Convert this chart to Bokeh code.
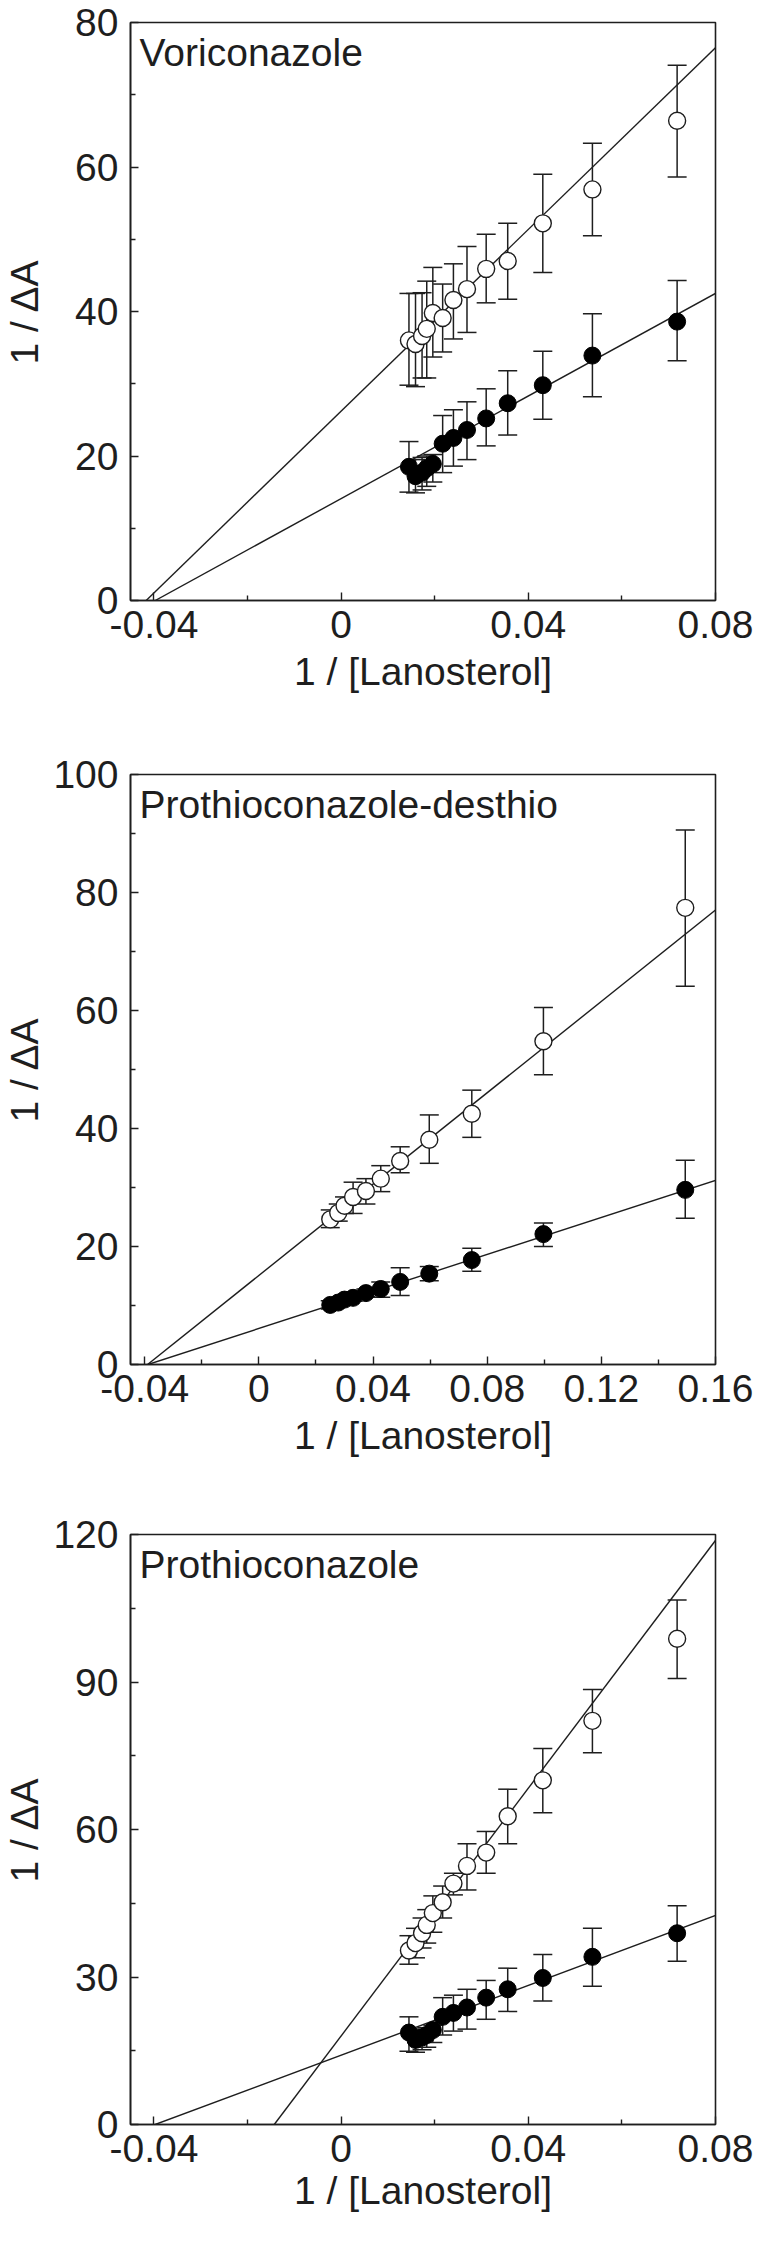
from bokeh.plotting import figure
from bokeh.models import (ColumnDataSource, Whisker, TeeHead, Slope, Label,
                          FixedTicker, Range1d)
from bokeh.layouts import column
from bokeh.embed import file_html
from bokeh.resources import INLINE

# ---------------- data ----------------
# Voriconazole / Prothioconazole share the same 1/[Lanosterol] values
x_lan = [0.0145, 0.0159, 0.0173, 0.0183, 0.0196, 0.0217, 0.0240, 0.0269,
         0.0310, 0.0356, 0.0431, 0.0537, 0.0718]

vori_open_y = [36.0, 35.5, 36.6, 37.6, 39.8, 39.1, 41.6, 43.1, 45.9, 47.0, 52.2, 56.9, 66.4]
vori_open_hi = [42.5, 42.5, 42.6, 44.2, 46.1, 43.8, 46.6, 49.0, 50.7, 52.2, 59.0, 63.3, 74.1]
vori_open_lo = [29.8, 29.6, 30.8, 30.8, 33.7, 34.4, 36.2, 37.1, 41.2, 41.7, 45.4, 50.5, 58.6]
vori_fill_y = [18.5, 17.2, 17.7, 18.3, 18.9, 21.7, 22.5, 23.6, 25.2, 27.3, 29.8, 33.9, 38.6]
vori_fill_hi = [22.0, 19.5, 19.8, 20.0, 20.2, 25.6, 26.4, 27.5, 29.3, 31.8, 34.5, 39.7, 44.3]
vori_fill_lo = [15.0, 14.9, 15.3, 15.8, 16.4, 17.7, 18.6, 19.5, 21.4, 22.9, 25.1, 28.2, 33.2]
vori_fit_open = (629.0, 26.2)   # slope, intercept
vori_fit_fill = (355.0, 14.1)

x_desthio = [0.025, 0.0278, 0.030, 0.0330, 0.0375, 0.0427, 0.0495, 0.0597, 0.0746, 0.0997, 0.1494]
des_open_y = [24.6, 25.7, 26.9, 28.4, 29.4, 31.5, 34.5, 38.1, 42.5, 54.8, 77.4]
des_open_hi = [26.2, 27.2, 28.4, 30.9, 31.5, 33.7, 36.9, 42.3, 46.5, 60.5, 90.6]
des_open_lo = [23.2, 24.3, 25.6, 25.6, 27.2, 29.3, 32.5, 34.1, 38.5, 49.1, 64.1]
des_fill_y = [10.1, 10.5, 11.0, 11.3, 12.1, 12.8, 14.0, 15.4, 17.7, 22.1, 29.6]
des_fill_hi = [10.8, 11.2, 11.6, 12.0, 12.8, 14.0, 16.4, 16.6, 19.7, 24.0, 34.6]
des_fill_lo = [9.4, 9.9, 10.4, 10.7, 11.5, 11.4, 11.7, 14.2, 15.8, 20.0, 24.8]
des_fit_open = (387.0, 15.1)
des_fit_fill = (157.0, 6.1)

pro_open_y = [35.4, 36.9, 38.9, 40.6, 43.0, 45.2, 49.0, 52.6, 55.3, 62.7, 70.0, 82.1, 98.8]
pro_open_hi = [38.4, 39.9, 42.0, 43.7, 46.5, 48.5, 51.1, 57.1, 59.6, 68.2, 76.5, 88.5, 106.7]
pro_open_lo = [32.6, 33.9, 35.9, 36.9, 39.1, 42.0, 46.7, 47.7, 51.1, 57.1, 63.4, 75.6, 90.7]
pro_fill_y = [18.7, 17.2, 17.7, 18.2, 19.2, 21.9, 22.7, 23.8, 25.8, 27.5, 29.8, 34.1, 38.9]
pro_fill_hi = [21.9, 19.2, 19.4, 19.7, 20.2, 25.8, 26.3, 27.5, 29.3, 31.8, 34.6, 39.9, 44.5]
pro_fill_lo = [14.9, 14.7, 15.2, 15.7, 16.7, 18.2, 19.0, 19.4, 21.4, 23.0, 25.1, 28.1, 33.2]
pro_fit_open = (1260.0, 18.0)
pro_fit_fill = (355.0, 14.1)

x_ticks_a = [-0.04, 0.0, 0.04, 0.08]
x_minor_a = [-0.02, 0.02, 0.06]
x_labels_a = ["-0.04", "0", "0.04", "0.08"]
x_ticks_b = [-0.04, 0.0, 0.04, 0.08, 0.12, 0.16]
x_minor_b = [-0.02, 0.02, 0.06, 0.10, 0.14]
x_labels_b = ["-0.04", "0", "0.04", "0.08", "0.12", "0.16"]

x_title = "1 / [Lanosterol]"
y_title = "1 / \u0394A"

FONT = "Liberation Sans"
FS = "39px"
INK = "#1e1e1e"


def make_panel(title, xs, open_y, open_lo, open_hi, fill_y, fill_lo, fill_hi,
               fit_open, fit_fill, xr, yr, xt, xminor, xlabels, yt, yminor,
               height, b_top, b_bottom, xlab_standoff, ylab_standoff):
    p = figure(width=759, height=height, output_backend="svg",
               toolbar_location=None, x_range=Range1d(*xr), y_range=Range1d(*yr),
               min_border_left=125, min_border_right=44,
               min_border_top=b_top, min_border_bottom=b_bottom)
    p.xgrid.visible = False
    p.ygrid.visible = False
    p.outline_line_color = INK
    p.outline_line_width = 1.6
    p.background_fill_color = "white"
    p.border_fill_color = "white"

    for ax in (p.xaxis[0], p.yaxis[0]):
        ax.axis_line_color = INK
        ax.axis_line_width = 1.6
        ax.major_tick_in = 8
        ax.major_tick_out = 0
        ax.minor_tick_in = 5
        ax.minor_tick_out = 0
        ax.major_tick_line_color = INK
        ax.minor_tick_line_color = INK
        ax.major_tick_line_width = 1.4
        ax.minor_tick_line_width = 1.4
        ax.major_label_text_font = FONT
        ax.major_label_text_font_size = FS
        ax.major_label_text_color = INK
        ax.axis_label_text_font = FONT
        ax.axis_label_text_font_size = FS
        ax.axis_label_text_font_style = "normal"
        ax.axis_label_text_color = INK

    p.xaxis.ticker = FixedTicker(ticks=xt, minor_ticks=xminor)
    p.xaxis.major_label_overrides = {t: l for t, l in zip(xt, xlabels)}
    p.xaxis.axis_label = x_title
    p.xaxis.major_label_standoff = 10
    p.xaxis.axis_label_standoff = xlab_standoff

    p.yaxis.ticker = FixedTicker(ticks=yt, minor_ticks=yminor)
    p.yaxis.axis_label = y_title
    p.yaxis.major_label_standoff = 12
    p.yaxis.axis_label_standoff = ylab_standoff

    # fitted lines
    for sl, ic in (fit_open, fit_fill):
        p.add_layout(Slope(gradient=sl, y_intercept=ic, line_color=INK,
                           line_width=1.4, level="underlay"))

    # error bars
    for yy, lo, hi in ((open_y, open_lo, open_hi), (fill_y, fill_lo, fill_hi)):
        src = ColumnDataSource(dict(x=xs, lo=lo, hi=hi))
        w = Whisker(base="x", lower="lo", upper="hi", source=src,
                    line_color=INK, line_width=1.5, level="underlay",
                    upper_head=TeeHead(size=19, line_color=INK, line_width=1.5),
                    lower_head=TeeHead(size=19, line_color=INK, line_width=1.5))
        p.add_layout(w)

    p.scatter(xs, open_y, size=17, marker="circle", fill_color="white",
              line_color=INK, line_width=1.4)
    p.scatter(xs, fill_y, size=17, marker="circle", fill_color="black",
              line_color="black", line_width=1.0)

    p.add_layout(Label(x=xr[0], y=yr[1], x_offset=9, y_offset=-8,
                       text=title, text_font=FONT, text_font_size=FS,
                       text_color=INK, text_baseline="top", text_align="left"))
    return p


p1 = make_panel("Voriconazole", x_lan, vori_open_y, vori_open_lo, vori_open_hi,
                vori_fill_y, vori_fill_lo, vori_fill_hi, vori_fit_open, vori_fit_fill,
                (-0.045, 0.08), (0, 80), x_ticks_a, x_minor_a, x_labels_a,
                [0, 20, 40, 60, 80], [10, 30, 50, 70], 710, 22, 110, 9, 26)
p2 = make_panel("Prothioconazole-desthio", x_desthio, des_open_y, des_open_lo, des_open_hi,
                des_fill_y, des_fill_lo, des_fill_hi, des_fit_open, des_fit_fill,
                (-0.045, 0.16), (0, 100), x_ticks_b, x_minor_b, x_labels_b,
                [0, 20, 40, 60, 80, 100], [10, 30, 50, 70, 90], 764, 64, 110, 9, 4)
p3 = make_panel("Prothioconazole", x_lan, pro_open_y, pro_open_lo, pro_open_hi,
                pro_fill_y, pro_fill_lo, pro_fill_hi, pro_fit_open, pro_fit_fill,
                (-0.045, 0.08), (0, 120), x_ticks_a, x_minor_a, x_labels_a,
                [0, 30, 60, 90, 120], [15, 45, 75, 105], 751, 60, 101, 4, 4)

layout = column(p1, p2, p3, spacing=0)
open("out.html", "w").write(file_html(layout, INLINE))
